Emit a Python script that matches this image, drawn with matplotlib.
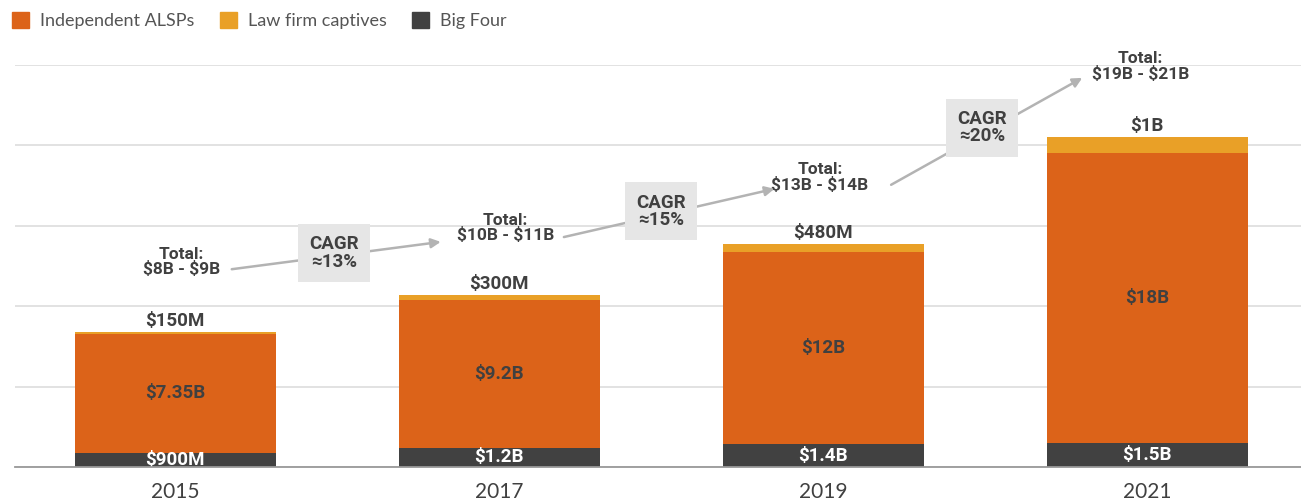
import matplotlib
matplotlib.use("Agg")
from matplotlib import pyplot as plt
from matplotlib.patches import Patch
import numpy as np

plt.rcParams['font.family'] = ['Lato', 'DejaVu Sans']
plt.rcParams['text.parse_math'] = False
bold_font = ['Roboto', 'DejaVu Sans']

years = ["2015", "2017", "2019", "2021"]
big_four = [0.9, 1.2, 1.4, 1.5]
independent = [7.35, 9.2, 12, 18]
captives = [0.15, 0.3, 0.48, 1.0]

big_four_labels = ["$900M", "$1.2B", "$1.4B", "$1.5B"]
independent_labels = ["$7.35B", "$9.2B", "$12B", "$18B"]
captive_labels = ["$150M", "$300M", "$480M", "$1B"]

totals_text = ["Total:\n$8B - $9B", "Total:\n$10B - $11B",
               "Total:\n$13B - $14B", "Total:\n$19B - $21B"]
totals_pos = [(0.02, 12.75), (1.02, 14.85), (1.99, 18.0), (2.98, 24.9)]
cagr_text = ["CAGR\n≈13%", "CAGR\n≈15%", "CAGR\n≈20%"]
cagr_pos = [(0.49, 13.3), (1.5, 15.9), (2.49, 21.1)]
# arrow start / end for each CAGR step
arrow_start = [(0.175, 12.3), (1.2, 14.3), (2.21, 17.55)]
arrow_end = [(0.82, 14.0), (1.85, 17.3), (2.8, 24.2)]

c_ind = "#DC6319"
c_cap = "#E9A027"
c_big = "#414141"
txt = "#404040"

fig = plt.figure(figsize=(13.01, 5.04), dpi=100)
ax = fig.add_axes([15 / 1301, 37 / 504, 1286 / 1301, 402 / 504])

x = np.arange(len(years))
w = 0.62
ax.bar(x, big_four, w, color=c_big, zorder=2)
ax.bar(x, independent, w, bottom=big_four, color=c_ind, zorder=2)
bot2 = np.array(big_four) + np.array(independent)
ax.bar(x, captives, w, bottom=bot2, color=c_cap, zorder=2)
tops = bot2 + np.array(captives)

for i in range(len(years)):
    ax.text(x[i], big_four[i] / 2, big_four_labels[i], ha="center", va="center",
            color="white", fontsize=13.5, fontweight="bold", family=bold_font,
            zorder=3)
    ax.text(x[i], big_four[i] + independent[i] / 2, independent_labels[i],
            ha="center", va="center", color=txt, fontsize=13.5,
            fontweight="bold", family=bold_font, zorder=3)
    ax.annotate(captive_labels[i], (x[i], tops[i]), xytext=(0, 1.5),
                textcoords="offset points", ha="center", va="bottom",
                color=txt, fontsize=13.5, fontweight="bold", family=bold_font,
                zorder=3)
    ax.text(totals_pos[i][0], totals_pos[i][1], totals_text[i], ha="center",
            va="center", color=txt, fontsize=12.5, fontweight="bold",
            family=bold_font, linespacing=0.95, zorder=3, clip_on=False)

for i in range(3):
    ax.annotate("", xy=arrow_end[i], xytext=arrow_start[i],
                arrowprops=dict(arrowstyle="-|>", color="#b3b3b3", lw=1.8,
                                mutation_scale=14, shrinkA=0, shrinkB=0),
                zorder=3, annotation_clip=False)
    ax.text(cagr_pos[i][0], cagr_pos[i][1], cagr_text[i], ha="center",
            va="center", color=txt, fontsize=13.5, fontweight="bold",
            family=bold_font, linespacing=0.95, zorder=4,
            bbox=dict(boxstyle="square,pad=0.6", fc="#e6e6e6", ec="none"))

ax.set_xlim(-0.494, 3.475)
ax.set_ylim(0, 25)
ax.set_yticks([0, 5, 10, 15, 20, 25])
ax.yaxis.grid(True, color="#dddddd", lw=1.2, zorder=0)
ax.set_yticklabels([])
ax.tick_params(axis="y", length=0)
ax.set_xticks(x)
ax.set_xticklabels(years, fontsize=15, color=txt)
ax.tick_params(axis="x", length=0, pad=11)
for s in ["top", "right", "left"]:
    ax.spines[s].set_visible(False)
ax.spines["bottom"].set_color("#999999")
ax.spines["bottom"].set_linewidth(1.3)
ax.spines["bottom"].set_zorder(3)

handles = [Patch(color=c_ind), Patch(color=c_cap), Patch(color=c_big)]
fig.legend(handles, ["Independent ALSPs", "Law firm captives", "Big Four"],
           loc="upper left", bbox_to_anchor=(-0.003, 1.008), ncol=3,
           frameon=False, fontsize=13, handlelength=0.95, handleheight=0.95,
           handletextpad=0.6, columnspacing=1.4, labelcolor="#555555")

fig.savefig("out.png", dpi=100)
